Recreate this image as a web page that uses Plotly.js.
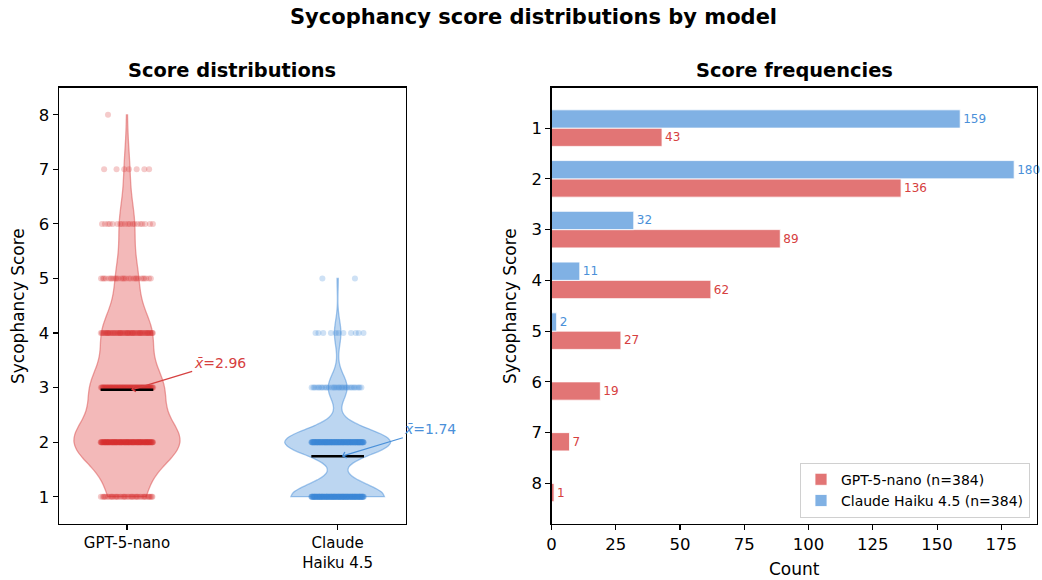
<!DOCTYPE html>
<html><head><meta charset="utf-8">
<script src="https://cdn.plot.ly/plotly-3.0.1.min.js"></script>
<style>html,body{margin:0;padding:0;background:#fff}#chart{width:1042px;height:580px}</style>
</head><body><div id="chart"></div>
<script>
// ---- data ----
const scores = [1, 2, 3, 4, 5, 6, 7, 8];
const gptCounts = [43, 136, 89, 62, 27, 19, 7, 1];
const claudeScores = [1, 2, 3, 4, 5];
const claudeCounts = [159, 180, 32, 11, 2];
const modelNames = ['GPT-5-nano', 'Claude Haiku 4.5'];
const modelTickText = ['GPT-5-nano', 'Claude<br>Haiku 4.5'];
const modelPositions = [0, 1];
const xTicksCount = [0, 25, 50, 75, 100, 125, 150, 175];

// ---- helpers ----
function expand(vals, counts) {
  const out = [];
  vals.forEach((v, i) => { for (let k = 0; k < counts[i]; k++) out.push(v); });
  return out;
}
function mean(a) { return a.reduce((s, v) => s + v, 0) / a.length; }
function scottBw(a) {
  const m = mean(a);
  const v = a.reduce((s, x) => s + (x - m) * (x - m), 0) / (a.length - 1);
  return Math.sqrt(v) * Math.pow(a.length, -0.2);
}
// deterministic strip-plot spread (golden-ratio sequence), half-width 0.125
function stripX(vals, counts, pos) {
  const xs = [], ys = [];
  vals.forEach((v, i) => {
    for (let k = 0; k < counts[i]; k++) {
      const f = ((k * 0.6180339887 + v * 0.31 + 0.66) % 1);
      xs.push(pos + (f - 0.5) * 0.25);
      ys.push(v);
    }
  });
  return { x: xs, y: ys };
}

const gptSamples = expand(scores, gptCounts);
const claudeSamples = expand(claudeScores, claudeCounts);
const samples = [gptSamples, claudeSamples];
const sampleVals = [scores, claudeScores];
const sampleCounts = [gptCounts, claudeCounts];
const means = samples.map(mean);

const FONT = 'DejaVu Sans, Liberation Sans, sans-serif';
const style = [
  { fill: 'rgba(224,80,80,0.40)', line: 'rgba(220,90,90,0.55)', pt: '#d62f2f', bar: '#e27575', txt: '#d64040' },
  { fill: 'rgba(74,144,217,0.37)', line: 'rgba(74,144,217,0.50)', pt: '#3a86d9', bar: '#80b1e4', txt: '#4a90d9' }
];

const traces = [];
samples.forEach((s, i) => {
  traces.push({
    type: 'violin', x0: modelPositions[i], y: s, name: modelNames[i],
    xaxis: 'x', yaxis: 'y', showlegend: false, hoverinfo: 'skip',
    fillcolor: style[i].fill, line: { color: style[i].line, width: 1.3 },
    points: false,
    box: { visible: false }, meanline: { visible: false },
    spanmode: 'hard', bandwidth: scottBw(s), scalemode: 'width', width: 0.503
  });
});
samples.forEach((s, i) => {
  const st = stripX(sampleVals[i], sampleCounts[i], modelPositions[i]);
  traces.push({
    type: 'scatter', mode: 'markers', xaxis: 'x', yaxis: 'y', showlegend: false, hoverinfo: 'skip',
    x: st.x, y: st.y, marker: { size: 6, color: style[i].pt, opacity: 0.25, line: { width: 0 } }
  });
});
samples.forEach((s, i) => {
  traces.push({
    type: 'scatter', mode: 'lines', xaxis: 'x', yaxis: 'y', showlegend: false, hoverinfo: 'skip',
    x: [modelPositions[i] - 0.125, modelPositions[i] + 0.125], y: [means[i], means[i]],
    line: { color: '#000', width: 2.5 }
  });
});

const barSets = [
  { y: scores, x: gptCounts, offset: 0 },
  { y: claudeScores, x: claudeCounts, offset: -0.36 }
];
barSets.forEach((b, i) => {
  const n = b.x.reduce((s, v) => s + v, 0);
  traces.push({
    type: 'bar', orientation: 'h', xaxis: 'x2', yaxis: 'y2',
    y: b.y, x: b.x, name: modelNames[i] + ' (n=' + n + ')',
    width: 0.36, offset: b.offset,
    marker: { color: style[i].bar, line: { color: 'rgba(255,255,255,0.8)', width: 1 } },
    text: b.x.map(String), textposition: 'outside', cliponaxis: false, constraintext: 'none',
    textfont: { color: style[i].txt, size: 12, family: FONT }, hoverinfo: 'skip'
  });
});

const W = 1042, H = 580;
const yDom = [(H - 524) / H, (H - 87.5) / H];
const axCommon = {
  showline: true, mirror: true, linecolor: '#000', linewidth: 1.1,
  ticks: 'outside', ticklen: 5, tickwidth: 1.1, tickcolor: '#000',
  showgrid: false, zeroline: false
};
function paperText(text, px, py, size, bold, angle) {
  return {
    text: text, xref: 'paper', yref: 'paper', x: px / W, y: 1 - py / H,
    xanchor: 'center', yanchor: 'middle', textangle: angle || 0, showarrow: false,
    font: { size: size, family: FONT, color: '#000', weight: bold ? 'bold' : 'normal' }
  };
}

const annotations = [
  paperText('Sycophancy score distributions by model', 533, 17, 21, true),
  paperText('Score distributions', 232, 70, 19.4, true),
  paperText('Score frequencies', 794, 70, 19.4, true),
  paperText('Sycophancy Score', 18, 306, 17, false, -90),
  paperText('Sycophancy Score', 510, 306, 17, false, -90),
  paperText('Count', 794, 569, 17, false)
];
means.forEach((m, i) => {
  annotations.push({
    xref: 'x', yref: 'y', axref: 'x', ayref: 'y',
    x: modelPositions[i] + 0.02, y: m, ax: modelPositions[i] + 0.44, ay: m + 0.49,
    xanchor: 'center', yanchor: 'middle',
    text: '<i>x̄</i>=' + m.toFixed(2), showarrow: true, arrowhead: 4, arrowsize: 1,
    arrowwidth: 1.2, arrowcolor: style[i].txt, standoff: 0,
    font: { size: 14, family: FONT, color: style[i].txt }
  });
});

const layout = {
  width: W, height: H, autosize: false,
  margin: { l: 0, r: 0, t: 0, b: 0, pad: 0 },
  paper_bgcolor: '#fff', plot_bgcolor: '#fff',
  font: { family: FONT, color: '#000', size: 16.5 },
  barmode: 'overlay', violinmode: 'overlay',
  xaxis: Object.assign({}, axCommon, {
    domain: [58.7 / W, 405.5 / W], anchor: 'y', type: 'linear', range: [-0.324, 1.322],
    tickmode: 'array', tickvals: modelPositions, ticktext: modelTickText, tickfont: { size: 15 }
  }),
  yaxis: Object.assign({}, axCommon, {
    domain: yDom, anchor: 'x', range: [0.5, 8.5], tickmode: 'array', tickvals: scores,
    tickfont: { size: 16.5 }
  }),
  xaxis2: Object.assign({}, axCommon, {
    domain: [551.5 / W, 1037.3 / W], anchor: 'y2', range: [0, 189], tickmode: 'array', tickvals: xTicksCount,
    tickfont: { size: 16.5 }
  }),
  yaxis2: Object.assign({}, axCommon, {
    domain: yDom, anchor: 'x2', range: [8.8, 0.2], tickmode: 'array', tickvals: scores,
    tickfont: { size: 16.5 }
  }),
  legend: {
    x: 1030 / W, xanchor: 'right', y: (H - 517.7) / H, yanchor: 'bottom',
    bgcolor: 'rgba(255,255,255,0.85)', bordercolor: '#d0d0d0', borderwidth: 1,
    font: { size: 14, family: FONT }, traceorder: 'normal', itemwidth: 30
  },
  annotations: annotations,
  showlegend: true
};

Plotly.newPlot('chart', traces, layout, { displayModeBar: false, staticPlot: true });
</script>
</body></html>
